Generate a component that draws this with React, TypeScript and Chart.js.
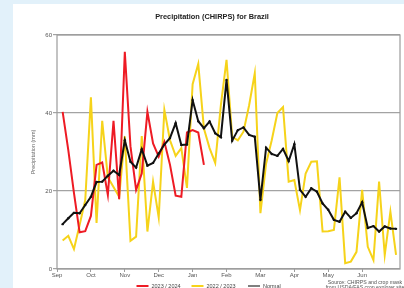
import React, { useEffect, useRef } from "react";
import { Chart, registerables } from "chart.js";

Chart.register(...registerables);

const monthLabels = ["Sep", "Oct", "Nov", "Dec", "Jan", "Feb", "Mar", "Apr", "May", "Jun"];

// pentad values (mm), Sep -> Jun
const season2324 = [
  40.3, 30.5, 19.5, 9.4, 9.7, 13.6, 26.7, 27.3, 19.0, 38.0,
  17.9, 55.7, 31.5, 20.3, 24.5, 40.3, 32.2, 28.8, 32.6, 26.7,
  18.8, 18.5, 35.0, 35.6, 35.0, 26.7,
];

const season2223 = [
  7.3, 8.5, 5.1, 11.3, 17.7, 44.0, 11.8, 38.0, 23.5, 21.0,
  18.5, 34.0, 7.2, 8.3, 34.1, 9.6, 22.4, 13.2, 40.8, 33.0,
  29.0, 31.0, 20.8, 47.4, 52.6, 36.0, 31.0, 27.2, 42.0, 53.6,
  33.9, 33.0, 35.2, 42.0, 50.2, 14.3, 27.0, 33.0, 40.0, 41.5,
  22.4, 22.8, 15.1, 24.5, 27.5, 27.6, 9.6, 9.7, 10.0, 23.5,
  1.5, 1.9, 4.4, 20.3, 5.7, 2.3, 22.4, 3.6, 14.7, 3.6,
];

const normal = [
  11.5, 13.0, 14.4, 14.3, 16.4, 18.5, 22.3, 22.4, 23.9, 25.2,
  24.1, 33.0, 27.5, 26.0, 30.7, 26.5, 27.2, 29.6, 31.9, 33.6,
  37.4, 31.8, 31.9, 43.3, 37.9, 36.1, 37.8, 34.8, 33.8, 48.5,
  32.9, 35.6, 36.3, 34.4, 33.9, 17.7, 31.1, 29.5, 29.0, 30.8,
  27.7, 32.0, 20.3, 18.5, 20.7, 19.8, 16.8, 15.2, 12.6, 12.1,
  14.7, 13.1, 14.3, 17.1, 10.5, 11.0, 9.6, 10.9, 10.4, 10.3,
];

const seriesNames = ["2023 / 2024", "2022 / 2023", "Normal"];
const titleText = "Precipitation (CHIRPS) for Brazil";
const yTitle = "Precipitation (mm)";
const sourceLines = ["Source: CHIRPS and crop mask", "from USDA/FAS crop explorer site"];

const FONT = 'Arial, "Liberation Sans", sans-serif';

const toPoints = (arr: number[]) => arr.map((v, i) => ({ x: i + 1, y: v }));

// legend item start positions (canvas px) and baseline y
const legendStarts = [123.5, 178.5, 235];
const legendY = 282;

const framePlugin = {
  id: "frameLegendSource",
  beforeDatasetsDraw(chart: any) {
    const { ctx, chartArea } = chart;
    const { left, top, right, bottom } = chartArea;
    ctx.save();
    ctx.strokeStyle = "#9c9c9c";
    ctx.lineWidth = 1.2;
    ctx.strokeRect(left, top, right - left, bottom - top);
    ctx.restore();
  },
  afterDraw(chart: any) {
    const { ctx } = chart;
    ctx.save();
    // legend
    ctx.font = `5.5px ${FONT}`;
    ctx.textBaseline = "middle";
    ctx.textAlign = "left";
    chart.data.datasets.forEach((ds: any, i: number) => {
      const x0 = legendStarts[i];
      ctx.strokeStyle = i === 2 ? "#555" : ds.borderColor;
      ctx.lineWidth = i === 2 ? 1.5 : 2;
      ctx.beginPath();
      ctx.moveTo(x0, legendY);
      ctx.lineTo(x0 + 12, legendY);
      ctx.stroke();
      ctx.fillStyle = "#444";
      ctx.fillText(ds.label, x0 + 15, legendY);
    });
    // source
    ctx.fillStyle = "#555";
    ctx.font = `5.2px ${FONT}`;
    ctx.textAlign = "center";
    ctx.fillText(sourceLines[0], 352, 278.5);
    ctx.fillText(sourceLines[1], 352, 284);
    ctx.restore();
  },
};

export default function App() {
  const ref = useRef<HTMLCanvasElement | null>(null);

  useEffect(() => {
    if (!ref.current) return;
    Chart.defaults.font.family = FONT;
    const chart = new Chart(ref.current, {
      type: "line",
      data: {
        datasets: [
          {
            label: seriesNames[0],
            data: toPoints(season2324),
            borderColor: "#ee1b24",
            backgroundColor: "#ee1b24",
            borderWidth: 2,
            pointRadius: 0,
            tension: 0,
            order: 1,
          },
          {
            label: seriesNames[1],
            data: toPoints(season2223),
            borderColor: "#f6d31a",
            backgroundColor: "#f6d31a",
            borderWidth: 2,
            pointRadius: 0,
            tension: 0,
            order: 2,
          },
          {
            label: seriesNames[2],
            data: toPoints(normal),
            borderColor: "#111111",
            backgroundColor: "#111111",
            borderWidth: 2,
            pointRadius: 1.2,
            pointBorderWidth: 0,
            pointBackgroundColor: "#111111",
            tension: 0,
            order: 0,
          },
        ],
      },
      options: {
        responsive: false,
        animation: false,
        events: [],
        layout: { padding: { left: 11, right: 11, top: 4, bottom: 18 } },
        plugins: {
          title: {
            display: true,
            text: titleText,
            color: "#222",
            font: { size: 7.4, weight: "bold", family: FONT },
            padding: { top: 4.3, bottom: 13.8 },
          },
          legend: { display: false },
          tooltip: { enabled: false },
        },
        scales: {
          x: {
            type: "linear",
            min: 0,
            max: 60.7,
            afterBuildTicks: (scale: any) => {
              scale.ticks = monthLabels.map((_, k) => ({ value: k * 6 }));
            },
            afterFit: (scale: any) => {
              scale.height = 12;
            },
            ticks: {
              autoSkip: false,
              maxRotation: 0,
              padding: 0,
              color: "#555",
              font: { size: 6, family: FONT },
              callback: (_v: any, index: number) => monthLabels[index] ?? "",
            },
            grid: {
              drawOnChartArea: false,
              drawTicks: true,
              tickLength: 3,
              color: "#9c9c9c",
            },
            border: { display: false },
          },
          y: {
            min: 0,
            max: 60,
            afterFit: (scale: any) => {
              scale.width = 33;
            },
            ticks: {
              stepSize: 20,
              padding: 1,
              color: "#555",
              font: { size: 6, family: FONT },
            },
            grid: {
              color: "#a3a3a3",
              lineWidth: 1.2,
              tickLength: 4,
            },
            border: { display: false },
            title: {
              display: true,
              text: yTitle,
              color: "#666",
              font: { size: 5.5, family: FONT },
              padding: { top: 5.7, bottom: 0 },
            },
          },
        },
      },
      plugins: [framePlugin],
    });
    return () => chart.destroy();
  }, []);

  return (
    <div
      style={{
        position: "fixed",
        left: 0,
        top: 0,
        width: 404,
        height: 288,
        background: "#e2f1fa",
        overflow: "hidden",
      }}
    >
      <div
        style={{
          position: "absolute",
          left: 13,
          top: 4,
          width: 398,
          height: 300,
          background: "#ffffff",
        }}
      >
        <canvas ref={ref} width={398} height={295} style={{ display: "block", width: 398, height: 295 }} />
      </div>
    </div>
  );
}
